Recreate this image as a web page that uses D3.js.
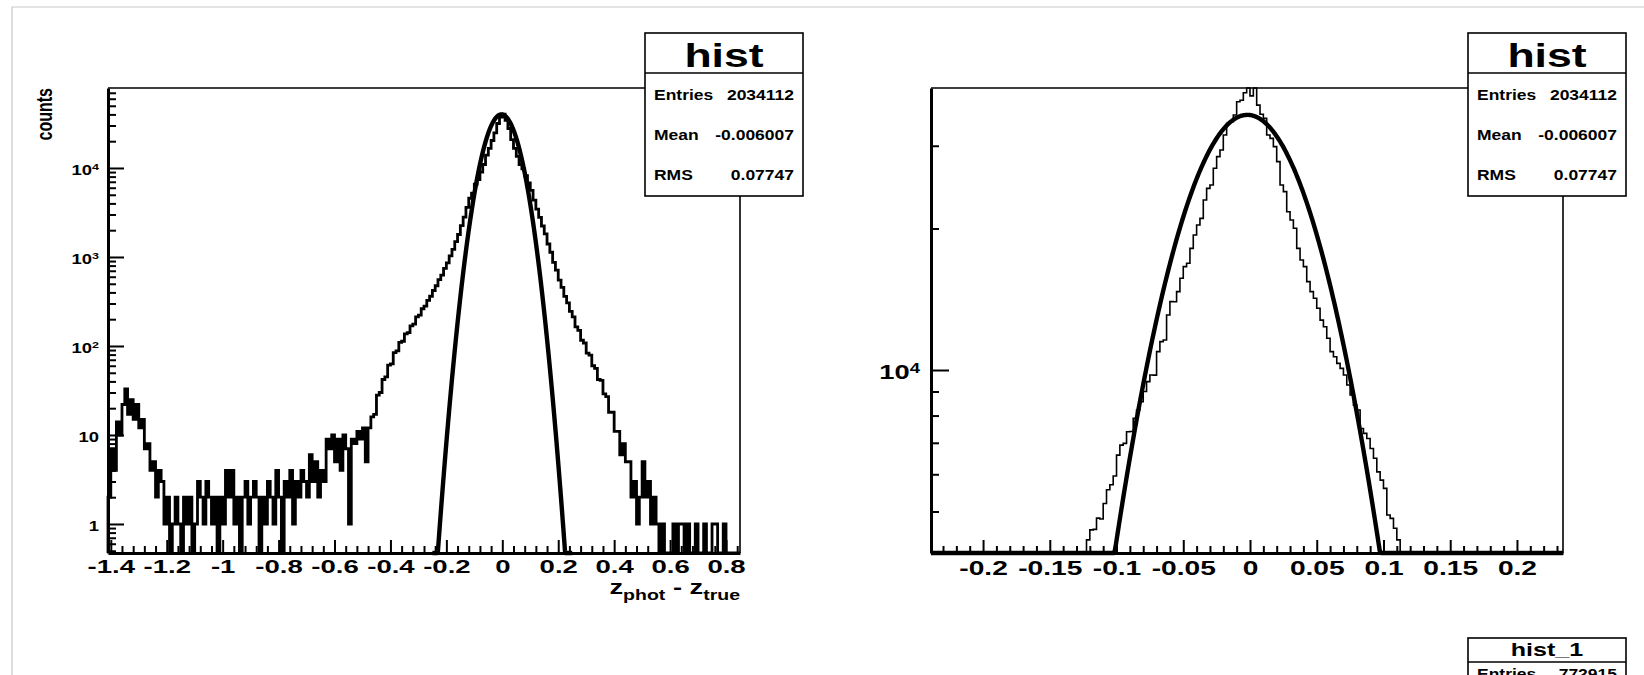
<!DOCTYPE html>
<html>
<head>
<meta charset="utf-8">
<script src="https://cdn.jsdelivr.net/npm/d3@7"></script>
<style>
  html, body { margin: 0; padding: 0; background: #fff; }
  svg { display: block; font-family: "Liberation Sans", Arial, Helvetica, sans-serif; font-weight: bold; }
</style>
</head>
<body>
<div id="chart"></div>
<script>
const width = 1644, height = 675;

// ---- values ----
// full histogram, bins of 0.01 starting at -1.41
const leftStart = -1.41, leftBin = 0.01;
const leftCounts = [
  2, 7, 4, 14, 10, 22, 33, 17, 25, 15,
  22, 12, 15, 7, 8, 4, 5, 2, 4, 3,
  1, 2, 0, 1, 2, 1, 0, 2, 1, 2,
  0, 1, 3, 2, 1, 3, 2, 1, 2, 0,
  2, 1, 4, 2, 4, 1, 2, 0, 2, 3,
  1, 2, 3, 2, 0, 2, 1, 3, 2, 1,
  4, 2, 0, 3, 2, 4, 1, 3, 2, 4,
  3, 2, 6, 3, 5, 2, 4, 3, 9, 7,
  10, 5, 9, 4, 10, 7, 1, 9, 8, 11,
  9, 12, 5, 12, 16, 17, 28, 30, 42, 45,
  61, 63, 84, 88, 110, 113, 137, 141, 168, 176,
  212, 222, 262, 281, 325, 362, 420, 475, 556, 625,
  745, 860, 1030, 1220, 1490, 1790, 2250, 2800, 3600, 4570,
  5200, 6590, 7400, 9000, 10940, 13980, 16590, 20350, 24750, 31620,
  37230, 40300, 34320, 27760, 20850, 16590, 13530, 10940, 9760, 8220,
  6810, 5600, 4350, 3450, 2780, 2230, 1820, 1400, 1130, 870,
  710, 550, 455, 360, 305, 245, 212, 164, 150, 116,
  108, 83, 79, 60, 56, 42, 41, 29, 27, 18,
  18, 11, 11, 6, 8, 5, 5, 2, 3, 1,
  2, 5, 2, 3, 1, 2, 1, 0, 1, 0,
  0, 0, 1, 0, 1, 1, 0, 1, 0, 0,
  1, 0, 0, 1, 0, 0, 1, 1, 0, 0,
  1, 0, 0, 0, 0, 0
];

// zoomed histogram (right pad), bins of 0.0025 starting at -0.1225
const zoomStart = -0.1225, zoomBin = 0.0025;
const zoomCounts = [
  4350, 4570, 4580, 4840, 4820, 5200, 5560, 5700, 5950, 6590,
  6920, 6980, 7390, 7400, 7890, 8220, 8560, 9000, 9445, 9760,
  9750, 10940, 11490, 11580, 13090, 13980, 13970, 14680, 15670, 16590,
  16870, 18150, 19380, 20350, 21020, 23000, 24350, 24750, 26860, 28440,
  29380, 31620, 33480, 33760, 34880, 37230, 37500, 38900, 40600,
  38300, 40200, 36600, 35000, 34300, 31620, 31110, 29870, 27760, 24750,
  23960, 21720, 20850, 20020, 18150, 17140, 16590, 15420, 14680, 14210,
  13530, 12770, 12360, 11680, 10940, 10670, 10330, 10080, 9760, 9290,
  8850, 8420, 8220, 7510, 7330, 7150, 6810, 6490, 6070, 5830,
  5600, 4915, 4835, 4605, 4350
];

// gaussian fits: constant, mean, sigma
const fitLeft = [40000, -0.003, 0.0478];
const fitLeftRange = [-0.25, 0.25];
const fitRight = [34900, -0.002, 0.048];

const leftXTicks = [-1.4, -1.2, -1, -0.8, -0.6, -0.4, -0.2, 0, 0.2, 0.4, 0.6, 0.8];
const leftYTicks = [1, 10, 100, 1000, 10000];
const leftYLabels = [['1', ''], ['10', ''], ['10', '2'], ['10', '3'], ['10', '4']];
const rightXTicks = [-0.2, -0.15, -0.1, -0.05, 0, 0.05, 0.1, 0.15, 0.2];
const rightYTicks = [10000];
const rightYLabels = [['10', '4']];

const statNames = ['Entries', 'Mean', 'RMS'];
const statValues = ['2034112', '-0.006007', '0.07747'];
const hist1Entries = '772915';

// ---- drawing ----
const svg = d3.select('#chart').append('svg')
  .attr('width', width).attr('height', height)
  .attr('viewBox', [0, 0, width, height]);

// canvas border
svg.append('path').attr('d', 'M12,675V7H1644').attr('fill', 'none')
  .attr('stroke', '#c8c8c8').attr('stroke-width', 1.2);

const leftX = d3.scaleLinear([-1.41, 0.85], [108, 740]);
const leftY = d3.scaleLog([0.472, 79200], [553, 88]).clamp(true);
const rightX = d3.scaleLinear([-0.239, 0.2345], [931, 1563]);
const rightY = d3.scaleLog([4080, 39810], [553, 88]).clamp(true);

function stepPath(x, y, start, bin, counts) {
  const floor = y.domain()[0];
  const pts = [[start, floor]];
  counts.forEach((c, i) => pts.push([start + i * bin, Math.max(c, floor)]));
  pts.push([start + counts.length * bin, floor]);
  return d3.line().x(d => x(d[0])).y(d => y(d[1])).curve(d3.curveStepAfter)(pts);
}

function fitPath(x, y, p, range) {
  const n = 500;
  const pts = d3.range(n + 1).map(i => {
    const v = range[0] + (range[1] - range[0]) * i / n;
    return [v, Math.max(p[0] * Math.exp(-0.5 * ((v - p[1]) / p[2]) ** 2), 1e-300)];
  });
  return d3.line().x(d => x(d[0])).y(d => y(d[1]))(pts);
}

function stretched(g, x, y, txt, size, anchor, sx) {
  return g.append('text')
    .attr('transform', `translate(${x},${y}) scale(${sx},1)`)
    .attr('text-anchor', anchor).attr('font-size', size).text(txt);
}

function xAxis(g, x, major, minors, fontSize, sx, labelY) {
  const ax = g.append('g').attr('transform', 'translate(0,553)')
    .call(d3.axisBottom(x).tickValues(major).tickFormat(d => String(d))
      .tickSizeInner(-13).tickSizeOuter(0).tickPadding(0))
    .attr('font-family', null).attr('font-size', fontSize);
  ax.select('.domain').attr('stroke-width', 3);
  ax.selectAll('.tick line').attr('stroke-width', 2);
  ax.selectAll('.tick text').attr('y', labelY).attr('dy', null)
    .attr('fill', '#000').attr('transform', `scale(${sx},1)`);
  const mn = g.append('g').attr('transform', 'translate(0,553)')
    .call(d3.axisBottom(x).tickValues(minors).tickFormat('').tickSizeInner(-7).tickSizeOuter(0));
  mn.select('.domain').remove();
  mn.selectAll('.tick line').attr('stroke-width', 2);
}

function yAxis(g, x0, y, major, labels, minors, fontSize, sx, majorLen, gap) {
  const ax = g.append('g').attr('transform', `translate(${x0},0)`)
    .call(d3.axisLeft(y).tickValues(major).tickFormat('')
      .tickSizeInner(-majorLen).tickSizeOuter(0).tickPadding(0))
    .attr('font-family', null).attr('font-size', fontSize);
  ax.select('.domain').attr('stroke-width', 3);
  ax.selectAll('.tick line').attr('stroke-width', 2);
  ax.selectAll('.tick text').each(function (d, i) {
    const t = d3.select(this).text(null)
      .attr('x', -gap / sx).attr('dy', '0.42em').attr('fill', '#000')
      .attr('transform', `scale(${sx},1)`);
    t.append('tspan').text(labels[i][0]);
    if (labels[i][1]) {
      t.append('tspan').attr('dy', '-0.42em').attr('font-size', fontSize * 0.68).text(labels[i][1]);
    }
  });
  const mn = g.append('g').attr('transform', `translate(${x0},0)`)
    .call(d3.axisLeft(y).tickValues(minors).tickFormat('').tickSizeInner(-8).tickSizeOuter(0));
  mn.select('.domain').remove();
  mn.selectAll('.tick line').attr('stroke-width', 2);
}

function logMinors(y) {
  const [lo, hi] = y.domain();
  const out = [];
  for (let e = -1; e <= 5; e++) {
    for (let m = 2; m <= 9; m++) {
      const v = m * Math.pow(10, e);
      if (v > lo && v < hi) out.push(v);
    }
  }
  return out;
}

function statsBox(g, x0, y0, w, h, divider, title, titleSize, titleBase) {
  g.append('rect').attr('x', x0).attr('y', y0).attr('width', w).attr('height', h)
    .attr('fill', '#fff').attr('stroke', '#000').attr('stroke-width', 1.6);
  g.append('line').attr('x1', x0).attr('x2', x0 + w).attr('y1', divider).attr('y2', divider)
    .attr('stroke', '#000').attr('stroke-width', 1.6);
  stretched(g, x0 + w / 2, titleBase, title, titleSize, 'middle', 1.35);
}

// ---------- left pad ----------
const L = svg.append('g');
L.append('path').attr('d', stepPath(leftX, leftY, leftStart, leftBin, leftCounts))
  .attr('fill', 'none').attr('stroke', '#000').attr('stroke-width', 2.8);
L.append('path').attr('d', fitPath(leftX, leftY, fitLeft, fitLeftRange))
  .attr('fill', 'none').attr('stroke', '#000').attr('stroke-width', 4.4)
  .attr('stroke-linejoin', 'round');
L.append('path').attr('d', 'M108,88H740V553').attr('fill', 'none')
  .attr('stroke', '#000').attr('stroke-width', 1.6);

const leftMinorX = d3.range(-35, 22).filter(i => i % 5 !== 0).map(i => i * 0.04);
xAxis(L, leftX, leftXTicks, leftMinorX, 19, 1.45, 20);
yAxis(L, 108, leftY, leftYTicks, leftYLabels, logMinors(leftY), 14.5, 1.27, 16, 9);

L.append('text')
  .attr('transform', 'translate(52,88) scale(1.4,1) rotate(-90)')
  .attr('text-anchor', 'end').attr('font-size', 16).text('counts');

const xt = L.append('text').attr('transform', 'translate(740,594) scale(1.3,1)')
  .attr('text-anchor', 'end').attr('font-size', 21);
xt.append('tspan').text('z');
xt.append('tspan').attr('font-size', 15).attr('dy', 6).text('phot');
xt.append('tspan').attr('dy', -6).text(' - z');
xt.append('tspan').attr('font-size', 15).attr('dy', 6).text('true');

statsBox(L, 645, 33, 158, 163, 73, 'hist', 33, 67);
statNames.forEach((n, i) => {
  stretched(L, 654, 100 + i * 40, n, 14, 'start', 1.25);
  stretched(L, 794, 100 + i * 40, statValues[i], 14, 'end', 1.25);
});

// ---------- right pad ----------
const R = svg.append('g');
R.append('path').attr('d', stepPath(rightX, rightY, zoomStart, zoomBin, zoomCounts))
  .attr('fill', 'none').attr('stroke', '#000').attr('stroke-width', 1.6);
R.append('path').attr('d', fitPath(rightX, rightY, fitRight, rightX.domain()))
  .attr('fill', 'none').attr('stroke', '#000').attr('stroke-width', 4.4)
  .attr('stroke-linejoin', 'round');
R.append('path').attr('d', 'M931,88H1563V553').attr('fill', 'none')
  .attr('stroke', '#000').attr('stroke-width', 1.6);

const rightMinorX = d3.range(-23, 24).filter(i => i % 5 !== 0).map(i => i * 0.01);
xAxis(R, rightX, rightXTicks, rightMinorX, 21, 1.34, 22);
yAxis(R, 931, rightY, rightYTicks, rightYLabels, logMinors(rightY), 21, 1.3, 18, 11);

statsBox(R, 1468, 33, 158, 163, 73, 'hist', 33, 67);
statNames.forEach((n, i) => {
  stretched(R, 1477, 100 + i * 40, n, 14, 'start', 1.25);
  stretched(R, 1617, 100 + i * 40, statValues[i], 14, 'end', 1.25);
});

// second stats box, cut by the bottom of the canvas
const B = svg.append('g');
B.append('rect').attr('x', 1468).attr('y', 638).attr('width', 158).attr('height', 60)
  .attr('fill', '#fff').attr('stroke', '#000').attr('stroke-width', 1.6);
B.append('line').attr('x1', 1468).attr('x2', 1626).attr('y1', 662).attr('y2', 662)
  .attr('stroke', '#000').attr('stroke-width', 1.6);
stretched(B, 1547, 656, 'hist_1', 19, 'middle', 1.32);
stretched(B, 1477, 679, 'Entries', 14, 'start', 1.25);
stretched(B, 1617, 679, hist1Entries, 14, 'end', 1.25);
</script>
</body>
</html>
